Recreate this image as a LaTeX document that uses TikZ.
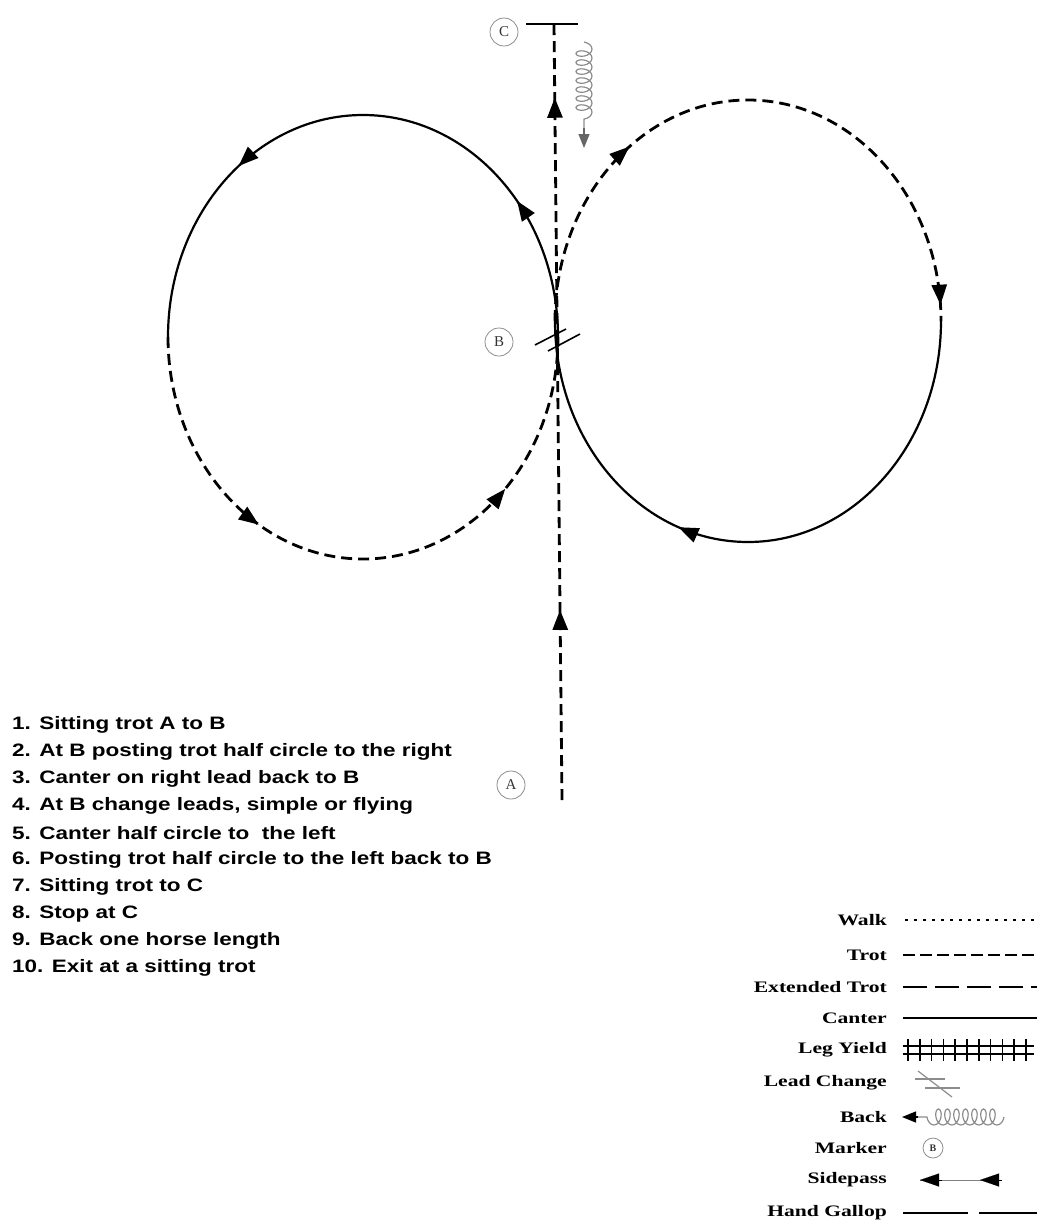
\documentclass[tikz,border=0pt]{standalone}
\usepackage{fontspec}
\setmainfont{Liberation Serif}
\newfontfamily\listfont{Liberation Sans}
\usetikzlibrary{arrows.meta,decorations.markings,decorations.pathmorphing}
\begin{document}
\begin{tikzpicture}[x=1pt,y=1pt,
  canter/.style={line width=2.2pt, line cap=round},
  trotline/.style={line width=2.8pt, dash pattern=on 11pt off 6pt},
  amark/.style={postaction={decorate,decoration={markings,
      mark=at position #1 with {\arrow{Triangle[length=20pt,width=15pt]}}}}},
  marker/.style={circle, draw=black!45, line width=0.8pt, inner sep=0pt,
      minimum size=28pt, font=\fontsize{15}{15}\selectfont, text=black!80},
  legendlabel/.style={anchor=east, inner sep=0pt, font=\bfseries\fontsize{16}{16}\selectfont},
  listline/.style={anchor=west, inner sep=0pt, font=\listfont\bfseries\fontsize{18}{18}\selectfont},
  backsym/.style={draw=black!45, line width=1.2pt, decorate,
      decoration={coil, aspect=0.6, segment length=9pt, amplitude=8pt}},
  tip/.style={-{Triangle[length=14pt,width=11pt]}}
]
\useasboundingbox (0,0) rectangle (1037,-1224);

% ---------- left circle (centre 363,-337) ----------
\coordinate (Lr) at (558,-337);
\coordinate (Ll) at (168,-337);
\draw[canter, amark=0.22, amark=0.71] (Lr) arc[start angle=0, end angle=180, x radius=195pt, y radius=222pt];
\draw[trotline, amark=0.33, amark=0.75] (Ll) arc[start angle=180, end angle=360, x radius=195pt, y radius=222pt];

% ---------- right circle (centre 748,-321) ----------
\coordinate (Rl) at (555,-321);
\coordinate (Rr) at (941,-321);
\draw[trotline, amark=0.30, amark=0.975] (Rl) arc[start angle=180, end angle=0, x radius=193pt, y radius=221pt];
\draw[canter, amark=0.61] (Rr) arc[start angle=0, end angle=-180, x radius=193pt, y radius=221pt];

% ---------- centre line A -> C ----------
\coordinate (Abot) at (562,-800);
\coordinate (Ctop) at (554,-24);
\coordinate (barL) at (526,-24);
\coordinate (barR) at (578,-24);
\draw[trotline, amark=0.245, amark=0.905] (Abot) -- (Ctop);
\draw[line width=2pt] (barL) -- (barR);

% back symbol beside C
\coordinate (bk1) at (584,-42);
\coordinate (bk2) at (584,-128);
\coordinate (bk3) at (584,-148);
\draw[backsym] (bk1) -- (bk2);
\draw[tip, draw=black!60, fill=black!60, line width=1.2pt] (bk2) -- (bk3);

% lead change at B
\coordinate (lc1) at (535,-345);
\coordinate (lc2) at (566,-329);
\coordinate (lc3) at (548,-351);
\coordinate (lc4) at (580,-334);
\draw[line width=1.6pt] (lc1) -- (lc2);
\draw[line width=1.6pt] (lc3) -- (lc4);

% markers
\node[marker] (mC) at (504,-32) {C};
\node[marker] (mB) at (499,-342) {B};
\node[marker] (mA) at (511,-785) {A};

% ---------- instructions ----------
\node[listline] (l1) at (12,-725) {\scalebox{1.25}[1]{1. Sitting trot A to B}};
\node[listline] (l2) at (12,-752) {\scalebox{1.25}[1]{2. At B posting trot half circle to the right}};
\node[listline] (l3) at (12,-779) {\scalebox{1.25}[1]{3. Canter on right lead back to B}};
\node[listline] (l4) at (12,-806) {\scalebox{1.25}[1]{4. At B change leads, simple or flying}};
\node[listline] (l5) at (12,-833) {\scalebox{1.25}[1]{5. Canter half circle to\ \ the left}};
\node[listline] (l6) at (12,-860) {\scalebox{1.25}[1]{6. Posting trot half circle to the left back to B}};
\node[listline] (l7) at (12,-887) {\scalebox{1.25}[1]{7. Sitting trot to C}};
\node[listline] (l8) at (12,-914) {\scalebox{1.25}[1]{8. Stop at C}};
\node[listline] (l9) at (12,-941) {\scalebox{1.25}[1]{9. Back one horse length}};
\node[listline] (l10) at (12,-968) {\scalebox{1.25}[1]{10. Exit at a sitting trot}};

% ---------- legend ----------
\node[legendlabel] (g1) at (887,-920) {\scalebox{1.35}[1]{Walk}};
\node[legendlabel] (g2) at (887,-955) {\scalebox{1.35}[1]{Trot}};
\node[legendlabel] (g3) at (887,-987) {\scalebox{1.35}[1]{Extended Trot}};
\node[legendlabel] (g4) at (887,-1018) {\scalebox{1.35}[1]{Canter}};
\node[legendlabel] (g5) at (887,-1050) {\scalebox{1.35}[1]{Leg Yield}};
\node[legendlabel] (g6) at (887,-1083) {\scalebox{1.35}[1]{Lead Change}};
\node[legendlabel] (g7) at (887,-1117) {\scalebox{1.35}[1]{Back}};
\node[legendlabel] (g8) at (887,-1148) {\scalebox{1.35}[1]{Marker}};
\node[legendlabel] (g9) at (887,-1180) {\scalebox{1.35}[1]{Sidepass}};
\node[legendlabel] (g10) at (887,-1213) {\scalebox{1.35}[1]{Hand Gallop}};

% walk
\coordinate (w1) at (905,-920); \coordinate (w2) at (1037,-920);
\draw[line width=1.6pt, dash pattern=on 3pt off 6pt] (w1) -- (w2);
% trot
\coordinate (t1) at (903,-955); \coordinate (t2) at (1037,-955);
\draw[line width=2.6pt, dash pattern=on 12pt off 5pt] (t1) -- (t2);
% extended trot
\coordinate (e1) at (903,-987); \coordinate (e2) at (1037,-987);
\draw[line width=1.8pt, dash pattern=on 24pt off 8pt] (e1) -- (e2);
% canter
\coordinate (c1) at (903,-1018); \coordinate (c2) at (1037,-1018);
\draw[line width=2pt] (c1) -- (c2);
% leg yield
\coordinate (y1) at (903,-1046); \coordinate (y2) at (1034,-1046);
\coordinate (y3) at (903,-1054); \coordinate (y4) at (1034,-1054);
\draw[line width=1.4pt] (y1) -- (y2);
\draw[line width=1.4pt] (y3) -- (y4);
\foreach \i in {0,...,10} {
  \draw[line width=1.6pt] (908+11.8*\i,-1039) -- (908+11.8*\i,-1061);
}
% lead change
\draw[draw=black!45, line width=1.2pt] (915,-1079) -- (945,-1079);
\draw[draw=black!45, line width=1.2pt] (925,-1088) -- (960,-1088);
\draw[draw=black!45, line width=1.2pt] (918,-1071) -- (952,-1097);
% back
\coordinate (b1) at (1004,-1117); \coordinate (b2) at (918,-1117); \coordinate (b3) at (902,-1117);
\draw[backsym] (b1) -- (b2);
\draw[tip, line width=1.2pt] (b2) -- (b3);
% marker
\node[marker, minimum size=20pt, font=\bfseries\fontsize{10}{10}\selectfont] (mk) at (933,-1148) {B};
% sidepass
\coordinate (s1) at (942,-1180); \coordinate (s2) at (920,-1180);
\coordinate (s3) at (1002,-1180); \coordinate (s4) at (980,-1180);
\draw[line width=0.6pt, draw=black!50] (s2) -- (s3);
\draw[-{Triangle[length=19pt,width=13pt]}, line width=0.1pt] (s1) -- (s2);
\draw[-{Triangle[length=19pt,width=13pt]}, line width=0.1pt] (s3) -- (s4);
% hand gallop
\coordinate (h1) at (903,-1213); \coordinate (h2) at (968,-1213);
\coordinate (h3) at (979,-1213); \coordinate (h4) at (1037,-1213);
\draw[line width=2pt] (h1) -- (h2);
\draw[line width=2pt] (h3) -- (h4);
\end{tikzpicture}
\end{document}
